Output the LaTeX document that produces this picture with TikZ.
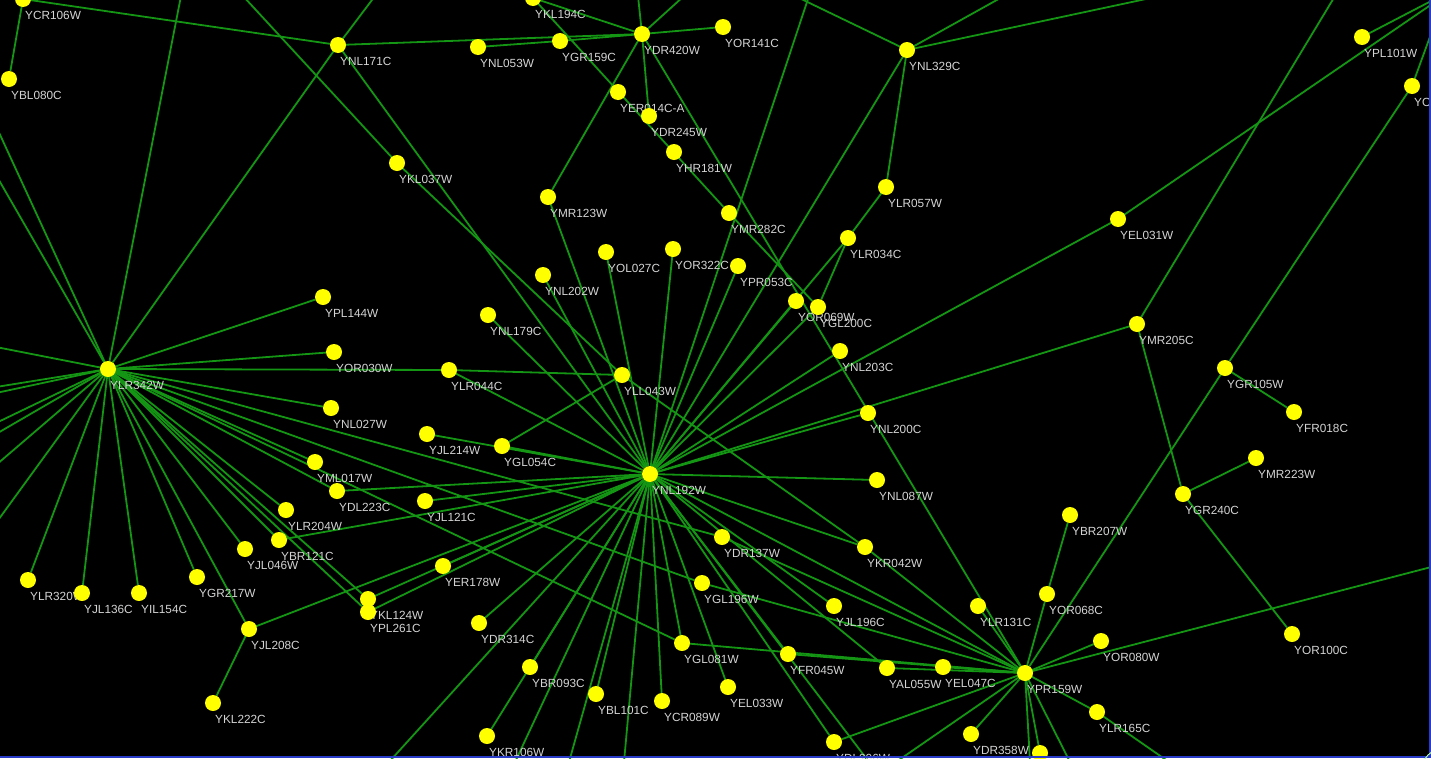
\documentclass[tikz,border=0pt]{standalone}
\usepackage{fontspec}
\setmainfont{Liberation Sans}
\definecolor{edgec}{RGB}{20,150,20}
\definecolor{nodey}{RGB}{255,255,0}
\definecolor{labc}{RGB}{212,212,212}
\definecolor{bordc}{RGB}{40,60,200}
\pgfdeclarelayer{edges}
\pgfdeclarelayer{labels}
\pgfsetlayers{edges,labels,main}
\tikzset{
  gene/.style={circle,fill=nodey,minimum size=16pt,inner sep=0pt},
  lbl/.style={anchor=base west,inner sep=0pt,text=labc,font=\fontsize{11.8}{12}\selectfont},
  link/.style={draw=edgec,line width=1.8pt}
}
\newcommand\mkgene[4]{%
  \node[gene] (#1) at (#2,#3) {};%
  \begin{pgfonlayer}{labels}\node[lbl] (#1l) at (#2+2,#3+20) {#4};\end{pgfonlayer}}
\begin{document}
\begin{tikzpicture}[x=1pt,y=-1pt]
\useasboundingbox (0,0) rectangle (1431,758);
\begin{pgfonlayer}{edges}
\fill[black] (0,0) rectangle (1431,758);
\end{pgfonlayer}
% genes
\mkgene{YCR106W}{23}{-1}{YCR106W}
\mkgene{YBL080C}{9}{79}{YBL080C}
\mkgene{YNL171C}{338}{45}{YNL171C}
\mkgene{YKL037W}{397}{163}{YKL037W}
\mkgene{YKL194C}{533}{-2}{YKL194C}
\mkgene{YNL053W}{478}{47}{YNL053W}
\mkgene{YGR159C}{560}{41}{YGR159C}
\mkgene{YDR420W}{642}{34}{YDR420W}
\mkgene{YOR141C}{723}{27}{YOR141C}
\mkgene{YER014CA}{618}{92}{YER014C-A}
\mkgene{YDR245W}{649}{116}{YDR245W}
\mkgene{YHR181W}{674}{152}{YHR181W}
\mkgene{YMR123W}{548}{197}{YMR123W}
\mkgene{YMR282C}{729}{213}{YMR282C}
\mkgene{YNL329C}{907}{50}{YNL329C}
\mkgene{YLR057W}{886}{187}{YLR057W}
\mkgene{YLR034C}{848}{238}{YLR034C}
\mkgene{YPL101W}{1362}{37}{YPL101W}
\mkgene{YO}{1412}{86}{YO}
\mkgene{YEL031W}{1118}{219}{YEL031W}
\mkgene{YLR342W}{108}{369}{YLR342W}
\mkgene{YPL144W}{323}{297}{YPL144W}
\mkgene{YOR030W}{334}{352}{YOR030W}
\mkgene{YLR044C}{449}{370}{YLR044C}
\mkgene{YNL027W}{331}{408}{YNL027W}
\mkgene{YJL214W}{427}{434}{YJL214W}
\mkgene{YML017W}{315}{462}{YML017W}
\mkgene{YDL223C}{337}{491}{YDL223C}
\mkgene{YGL054C}{502}{446}{YGL054C}
\mkgene{YOL027C}{606}{252}{YOL027C}
\mkgene{YOR322C}{673}{249}{YOR322C}
\mkgene{YPR053C}{738}{266}{YPR053C}
\mkgene{YNL202W}{543}{275}{YNL202W}
\mkgene{YNL179C}{488}{315}{YNL179C}
\mkgene{YOR069W}{796}{301}{YOR069W}
\mkgene{YGL200C}{818}{307}{YGL200C}
\mkgene{YNL203C}{840}{351}{YNL203C}
\mkgene{YLL043W}{622}{375}{YLL043W}
\mkgene{YNL200C}{868}{413}{YNL200C}
\mkgene{YNL192W}{650}{474}{YNL192W}
\mkgene{YNL087W}{877}{480}{YNL087W}
\mkgene{YMR205C}{1137}{324}{YMR205C}
\mkgene{YGR105W}{1225}{368}{YGR105W}
\mkgene{YFR018C}{1294}{412}{YFR018C}
\mkgene{YMR223W}{1256}{458}{YMR223W}
\mkgene{YGR240C}{1183}{494}{YGR240C}
\mkgene{YBR207W}{1070}{515}{YBR207W}
\mkgene{YOR068C}{1047}{594}{YOR068C}
\mkgene{YLR131C}{978}{606}{YLR131C}
\mkgene{YOR080W}{1101}{641}{YOR080W}
\mkgene{YPR159W}{1025}{673}{YPR159W}
\mkgene{YOR100C}{1292}{634}{YOR100C}
\mkgene{YLR165C}{1097}{712}{YLR165C}
\mkgene{YDR358W}{971}{734}{YDR358W}
\node[gene] (Ybot) at (1040,753) {};
\mkgene{YLR320W}{28}{580}{YLR320W}
\mkgene{YJL136C}{82}{593}{YJL136C}
\mkgene{YIL154C}{139}{593}{YIL154C}
\mkgene{YGR217W}{197}{577}{YGR217W}
\mkgene{YJL046W}{245}{549}{YJL046W}
\mkgene{YBR121C}{279}{540}{YBR121C}
\mkgene{YLR204W}{286}{510}{YLR204W}
\mkgene{YJL121C}{425}{501}{YJL121C}
\mkgene{YJL208C}{249}{629}{YJL208C}
\mkgene{YKL222C}{213}{703}{YKL222C}
\mkgene{YKL124W}{368}{599}{YKL124W}
\mkgene{YPL261C}{368}{612}{YPL261C}
\mkgene{YER178W}{443}{566}{YER178W}
\mkgene{YDR314C}{479}{623}{YDR314C}
\mkgene{YBR093C}{530}{667}{YBR093C}
\mkgene{YBL101C}{596}{694}{YBL101C}
\mkgene{YCR089W}{662}{701}{YCR089W}
\mkgene{YEL033W}{728}{687}{YEL033W}
\mkgene{YGL081W}{682}{643}{YGL081W}
\mkgene{YGL196W}{702}{583}{YGL196W}
\mkgene{YDR137W}{722}{537}{YDR137W}
\mkgene{YFR045W}{788}{654}{YFR045W}
\mkgene{YJL196C}{834}{606}{YJL196C}
\mkgene{YKR042W}{865}{547}{YKR042W}
\mkgene{YAL055W}{887}{668}{YAL055W}
\mkgene{YEL047C}{943}{667}{YEL047C}
\mkgene{YKR106W}{487}{736}{YKR106W}
\mkgene{YDL206W}{834}{742}{YDL206W}
% off-picture ends
\coordinate (oT1) at (181,-4);
\coordinate (oT2) at (243,-4);
\coordinate (oT3) at (375,-4);
\coordinate (oT4) at (638,-4);
\coordinate (oT5) at (684,-4);
\coordinate (oT6) at (809,-4);
\coordinate (oT7) at (795,-4);
\coordinate (oT8) at (1004,-4);
\coordinate (oT9) at (1160,-4);
\coordinate (oT10) at (1335,-4);
\coordinate (oL1) at (-4,126);
\coordinate (oL2) at (-4,175);
\coordinate (oL3) at (-4,347);
\coordinate (oL4) at (-4,387);
\coordinate (oL5) at (-4,393);
\coordinate (oL6) at (-4,423);
\coordinate (oL7) at (-4,434);
\coordinate (oL8) at (-4,465);
\coordinate (oL9) at (-4,523);
\coordinate (oR1) at (1435,-1);
\coordinate (oR2) at (1435,2);
\coordinate (oR3) at (1435,23);
\coordinate (oR4) at (1435,566);
\coordinate (oB1) at (389,762);
\coordinate (oB2) at (515,762);
\coordinate (oB3) at (569,762);
\coordinate (oB4) at (624,762);
\coordinate (oB5) at (869,762);
\coordinate (oB6) at (896,762);
\coordinate (oB7) at (1030,762);
\coordinate (oB8) at (1070,762);
\coordinate (oB9) at (1169,762);
\begin{pgfonlayer}{edges}
\foreach \a/\b in {YCR106W/YBL080C, YCR106W/YNL171C, YNL171C/YLR342W, YNL171C/oT3, YNL171C/YDR420W, YNL171C/YNL192W, YLR342W/oT1, YKL037W/oT2, YKL037W/YLL043W,
YLR342W/oL1, YLR342W/oL2, YLR342W/oL3, YLR342W/oL4, YLR342W/oL5, YLR342W/oL6, YLR342W/oL7, YLR342W/oL8, YLR342W/oL9,
YNL053W/YGR159C, YGR159C/YDR420W, YKL194C/YDR420W, YKL194C/YMR282C, YMR282C/YGL200C,
YDR420W/YOR141C, YDR420W/oT4, YDR420W/oT5, YDR420W/YDR245W, YDR420W/YMR123W, YDR420W/YPR159W,
YMR123W/YNL192W, YNL192W/oT6, YNL329C/oT7, YNL329C/oT8, YNL329C/oT9, YNL329C/YLR057W, YNL329C/YNL192W,
YLR057W/YLR034C, YLR034C/YNL192W, YLR034C/YGL200C, YGL200C/YNL192W, YOR069W/YNL192W,
YPL101W/oR1, YEL031W/oR2, YEL031W/YNL192W, YO/oR3, YO/YGR105W, YGR105W/YPR159W, YGR105W/YFR018C,
YMR205C/oT10, YMR205C/YGR240C, YMR205C/YNL192W, YGR240C/YMR223W, YGR240C/YOR100C,
YPR159W/oR4, YPR159W/YOR080W, YPR159W/YOR068C, YOR068C/YBR207W, YPR159W/YLR131C, YPR159W/YLR165C, YLR165C/oB9,
YPR159W/YDR358W, YPR159W/Ybot, YPR159W/oB7, YPR159W/oB8, YPR159W/YDL206W, YPR159W/oB6, YPR159W/YEL047C, YPR159W/YAL055W, YPR159W/YGL081W, YPR159W/YFR045W, YPR159W/YGL196W, YPR159W/YDR137W, YPR159W/YKR042W,
YLR342W/YPL144W, YLR342W/YOR030W, YLR342W/YLR044C, YLR342W/YNL027W, YLR342W/YDR137W, YLR342W/YGL196W, YLR342W/YGL081W, YLR342W/YML017W, YLR342W/YDL223C, YLR342W/YLR204W, YLR342W/YBR121C, YLR342W/YJL046W, YLR342W/YKL124W, YLR342W/YPL261C, YLR342W/YJL208C, YLR342W/YGR217W, YLR342W/YIL154C, YLR342W/YJL136C, YLR342W/YLR320W,
YLR044C/YLL043W, YLR044C/YNL192W, YGL054C/YLL043W, YGL054C/YNL192W, YLL043W/YKR042W,
YNL179C/YNL192W, YNL202W/YNL192W, YOL027C/YNL192W, YOR322C/YNL192W, YPR053C/YNL192W,
YNL192W/YNL203C, YNL192W/YNL200C, YNL192W/YNL087W,
YJL214W/YNL192W, YDL223C/YNL192W, YJL121C/YNL192W, YBR121C/YNL192W, YJL208C/YNL192W, YJL208C/YKL222C, YKL124W/YNL192W, YPL261C/YNL192W, YER178W/YNL192W, YDR314C/YNL192W, YBR093C/YNL192W, YKR106W/YNL192W, YBL101C/YNL192W, YCR089W/YNL192W, YEL033W/YNL192W, YGL081W/YNL192W,
YNL192W/oB1, YNL192W/oB2, YNL192W/oB3, YNL192W/oB4, YNL192W/oB5,
YNL192W/YFR045W, YNL192W/YDL206W, YNL192W/YAL055W, YNL192W/YJL196C, YNL192W/YKR042W, YNL192W/YPR159W}
  {\draw[link] (\a.center) -- (\b);}
\end{pgfonlayer}
% frame
\fill[bordc] (1429,0) rectangle (1431,758);
\fill[bordc] (0,756) rectangle (1431,758);
\draw[white!70!green,line width=1pt] (1445,772) circle[radius=24];
\end{tikzpicture}
\end{document}
